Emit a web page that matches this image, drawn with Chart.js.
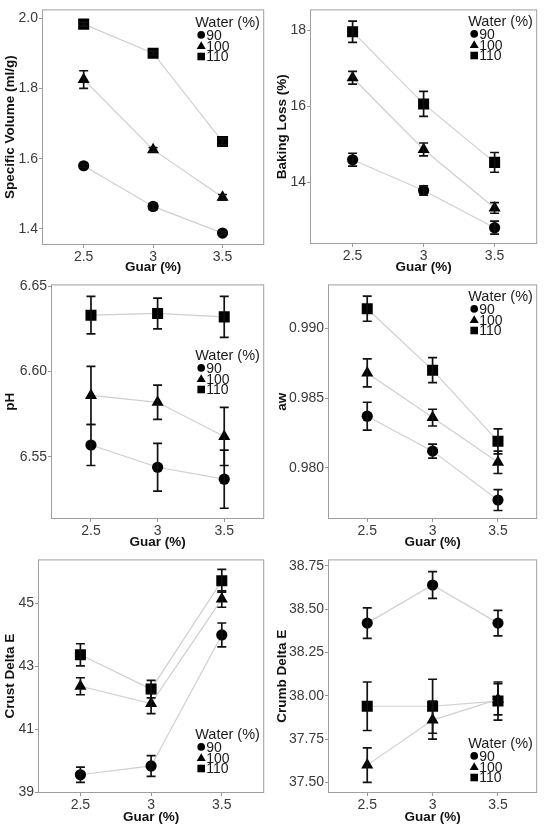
<!DOCTYPE html>
<html>
<head>
<meta charset="utf-8">
<script src="https://cdn.jsdelivr.net/npm/chart.js@4.4.1/dist/chart.umd.min.js"></script>
<style>
    body { margin: 0; background: #fff; }
    #wrap { position: relative; width: 545px; height: 830px; }
    canvas { position: absolute; }
</style>
</head>
<body>
<div id="wrap">
    <canvas id="specVolChart" width="272" height="275" style="left:0;top:0"></canvas>
    <canvas id="bakingLossChart" width="273" height="275" style="left:272px;top:0"></canvas>
    <canvas id="phChart" width="272" height="275" style="left:0;top:275px"></canvas>
    <canvas id="awChart" width="273" height="275" style="left:272px;top:275px"></canvas>
    <canvas id="crustChart" width="272" height="275" style="left:0;top:550px"></canvas>
    <canvas id="crumbChart" width="273" height="275" style="left:272px;top:550px"></canvas>
</div>
<script>
// Shared categories
const guar = [2.5, 3, 3.5];
const guarLabels = ['2.5', '3', '3.5'];
const waterLevels = ['90', '100', '110'];

// Specific Volume (ml/g)
const specVol90 = [1.580, 1.464, 1.388];
const specVol100 = [1.826, 1.626, 1.490];
const specVol110 = [1.984, 1.901, 1.649];
const specVolErr90 = [0.005, 0.009, 0.004];
const specVolErr100 = [0.025, 0.006, 0.008];
const specVolErr110 = [0.005, 0.005, 0.009];
const specVolTicks = [1.4, 1.6, 1.8, 2.0];

// Baking Loss (%)
const bakingLoss90 = [14.59, 13.78, 12.80];
const bakingLoss100 = [16.75, 14.86, 13.32];
const bakingLoss110 = [17.96, 16.06, 14.52];
const bakingLossErr90 = [0.17, 0.12, 0.17];
const bakingLossErr100 = [0.17, 0.17, 0.14];
const bakingLossErr110 = [0.28, 0.33, 0.26];
const bakingLossTicks = [14, 16, 18];

// pH
const ph90 = [6.557, 6.544, 6.537];
const ph100 = [6.586, 6.582, 6.562];
const ph110 = [6.633, 6.634, 6.632];
const phErr90 = [0.012, 0.014, 0.017];
const phErr100 = [0.017, 0.010, 0.017];
const phErr110 = [0.011, 0.009, 0.012];
const phTicks = [6.55, 6.60, 6.65];

// aw
const aw90 = [0.9837, 0.9812, 0.9777];
const aw100 = [0.9868, 0.9836, 0.9804];
const aw110 = [0.9914, 0.9870, 0.9819];
const awErr90 = [0.0010, 0.0005, 0.00075];
const awErr100 = [0.0010, 0.0006, 0.0008];
const awErr110 = [0.0009, 0.0009, 0.0009];
const awTicks = [0.980, 0.985, 0.990];

// Crust Delta E
const crust90 = [39.56, 39.84, 44.00];
const crust100 = [42.37, 41.82, 45.14];
const crust110 = [43.37, 42.28, 45.72];
const crustErr90 = [0.24, 0.33, 0.38];
const crustErr100 = [0.27, 0.32, 0.26];
const crustErr110 = [0.35, 0.28, 0.36];
const crustTicks = [39, 41, 43, 45];

// Crumb Delta E
const crumb90 = [38.42, 38.64, 38.42];
const crumb100 = [37.60, 37.86, 37.98];
const crumb110 = [37.94, 37.94, 37.97];
const crumbErr90 = [0.088, 0.077, 0.074];
const crumbErr100 = [0.10, 0.11, 0.09];
const crumbErr110 = [0.14, 0.156, 0.11];
const crumbTicks = [37.50, 37.75, 38.00, 38.25, 38.50, 38.75];

const FONT = '"Liberation Sans", Arial, sans-serif';
const pointStyles = ['circle', 'triangle', 'rect'];
const pointRadii = [5.6, 7, 7.8];

// Draw a small legend marker by hand
function legendMarker(ctx, style, x, y) {
    ctx.beginPath();
    if (style === 'circle') {
        ctx.arc(x, y, 3.8, 0, Math.PI * 2);
    } else if (style === 'triangle') {
        ctx.moveTo(x, y - 4.4);
        ctx.lineTo(x + 4.5, y + 3.3);
        ctx.lineTo(x - 4.5, y + 3.3);
        ctx.closePath();
    } else {
        ctx.rect(x - 3.8, y - 3.8, 7.6, 7.6);
    }
    ctx.fill();
}

// Error bars, panel frame and the "Water (%)" legend
const panelExtras = {
    id: 'panelExtras',
    afterDatasetsDraw(chart, args, opts) {
        const ctx = chart.ctx;
        const xs = chart.scales.x;
        const ys = chart.scales.y;
        const a = chart.chartArea;
        ctx.save();

        // error bars
        ctx.strokeStyle = '#111';
        ctx.lineWidth = 1.7;
        chart.data.datasets.forEach(ds => {
            ds.err.forEach((e, i) => {
                const px = xs.getPixelForValue(ds.data[i].x);
                const top = ys.getPixelForValue(ds.data[i].y + e);
                const bot = ys.getPixelForValue(ds.data[i].y - e);
                ctx.beginPath();
                ctx.moveTo(px, top); ctx.lineTo(px, bot);
                ctx.moveTo(px - 4.5, top); ctx.lineTo(px + 4.5, top);
                ctx.moveTo(px - 4.5, bot); ctx.lineTo(px + 4.5, bot);
                ctx.stroke();
            });
        });

        // frame around the plot
        ctx.strokeStyle = '#9e9e9e';
        ctx.lineWidth = 1;
        ctx.strokeRect(a.left + 0.5, a.top + 0.5, a.right - a.left - 1, a.bottom - a.top - 1);

        // legend
        const lx = a.right - 69;
        const ly = a.top + opts.legendTop;
        ctx.fillStyle = '#1a1a1a';
        ctx.textBaseline = 'middle';
        ctx.textAlign = 'left';
        ctx.font = '14.5px ' + FONT;
        ctx.fillText('Water (%)', lx, ly);
        ctx.font = '14px ' + FONT;
        waterLevels.forEach((w, i) => {
            const ry = ly + 11.5 + i * 10.8;
            ctx.fillStyle = '#000';
            legendMarker(ctx, pointStyles[i], lx + 6, ry);
            ctx.fillStyle = '#1a1a1a';
            ctx.fillText(w, lx + 11, ry + 1);
        });
        ctx.restore();
    }
};

function makePanel(canvasId, p) {
    const datasets = p.series.map((vals, i) => ({
        label: waterLevels[i],
        data: vals.map((v, j) => ({ x: guar[j], y: v })),
        err: p.errors[i],
        borderColor: '#cfcfcf',
        borderWidth: 1.2,
        backgroundColor: '#000',
        pointBackgroundColor: '#000',
        pointBorderColor: '#000',
        pointBorderWidth: 0,
        pointStyle: pointStyles[i],
        pointRadius: pointRadii[i],
        tension: 0
    }));

    const ctx = document.getElementById(canvasId).getContext('2d');
    new Chart(ctx, {
        type: 'line',
        data: { datasets: datasets },
        plugins: [panelExtras],
        options: {
            responsive: false,
            animation: false,
            layout: { padding: { top: 8, right: p.rightPad, left: 0, bottom: 0 } },
            plugins: {
                legend: { display: false },
                tooltip: { enabled: false },
                panelExtras: { legendTop: p.legendTop }
            },
            scales: {
                x: {
                    type: 'linear',
                    min: 2.2,
                    max: 3.8,
                    afterBuildTicks: scale => { scale.ticks = guar.map(v => ({ value: v })); },
                    afterFit: scale => { scale.height = 275 - p.bottom; },
                    grid: { display: true, drawOnChartArea: false, drawTicks: true, tickLength: 3, color: '#999' },
                    border: { display: false },
                    ticks: {
                        padding: 1,
                        color: '#3a3a3a',
                        font: { family: FONT, size: 14 },
                        callback: (v, i) => guarLabels[i]
                    },
                    title: {
                        display: true,
                        text: 'Guar (%)',
                        color: '#111',
                        padding: { top: 0, bottom: 0 },
                        font: { family: FONT, size: 13.5, weight: 'bold' }
                    }
                },
                y: {
                    min: p.yMin,
                    max: p.yMax,
                    afterBuildTicks: scale => { scale.ticks = p.yTicks.map(v => ({ value: v })); },
                    afterFit: scale => { scale.width = p.left; },
                    grid: { display: true, drawOnChartArea: false, drawTicks: true, tickLength: 3, color: '#999' },
                    border: { display: false },
                    ticks: {
                        padding: 1,
                        color: '#3a3a3a',
                        font: { family: FONT, size: 14 },
                        callback: v => Number(v).toFixed(p.decimals)
                    },
                    title: {
                        display: true,
                        text: p.yTitle,
                        color: '#111',
                        padding: { top: 2, bottom: 0 },
                        font: { family: FONT, size: 13.5, weight: 'bold' }
                    }
                }
            }
        }
    });
}

makePanel('specVolChart', {
    series: [specVol90, specVol100, specVol110],
    errors: [specVolErr90, specVolErr100, specVolErr110],
    yTitle: 'Specific Volume (ml/g)', yMin: 1.354, yMax: 2.026, yTicks: specVolTicks, decimals: 1,
    left: 42, rightPad: 4, bottom: 245, legendTop: 14
});
makePanel('bakingLossChart', {
    series: [bakingLoss90, bakingLoss100, bakingLoss110],
    errors: [bakingLossErr90, bakingLossErr100, bakingLossErr110],
    yTitle: 'Baking Loss (%)', yMin: 12.37, yMax: 18.55, yTicks: bakingLossTicks, decimals: 0,
    left: 38, rightPad: 5, bottom: 244, legendTop: 13
});
makePanel('phChart', {
    series: [ph90, ph100, ph110],
    errors: [phErr90, phErr100, phErr110],
    yTitle: 'pH', yMin: 6.5137, yMax: 6.651, yTicks: phTicks, decimals: 2,
    left: 51, rightPad: 4, bottom: 244, legendTop: 72
});
makePanel('awChart', {
    series: [aw90, aw100, aw110],
    errors: [awErr90, awErr100, awErr110],
    yTitle: 'aw', yMin: 0.97634, yMax: 0.99314, yTicks: awTicks, decimals: 3,
    left: 56, rightPad: 5, bottom: 244, legendTop: 13
});
makePanel('crustChart', {
    series: [crust90, crust100, crust110],
    errors: [crustErr90, crustErr100, crustErr110],
    yTitle: 'Crust Delta E', yMin: 38.98, yMax: 46.40, yTicks: crustTicks, decimals: 0,
    left: 38, rightPad: 4, bottom: 243, legendTop: 176
});
makePanel('crumbChart', {
    series: [crumb90, crumb100, crumb110],
    errors: [crumbErr90, crumbErr100, crumbErr110],
    yTitle: 'Crumb Delta E', yMin: 37.439, yMax: 38.788, yTicks: crumbTicks, decimals: 2,
    left: 56, rightPad: 5, bottom: 243, legendTop: 185
});
</script>
</body>
</html>
